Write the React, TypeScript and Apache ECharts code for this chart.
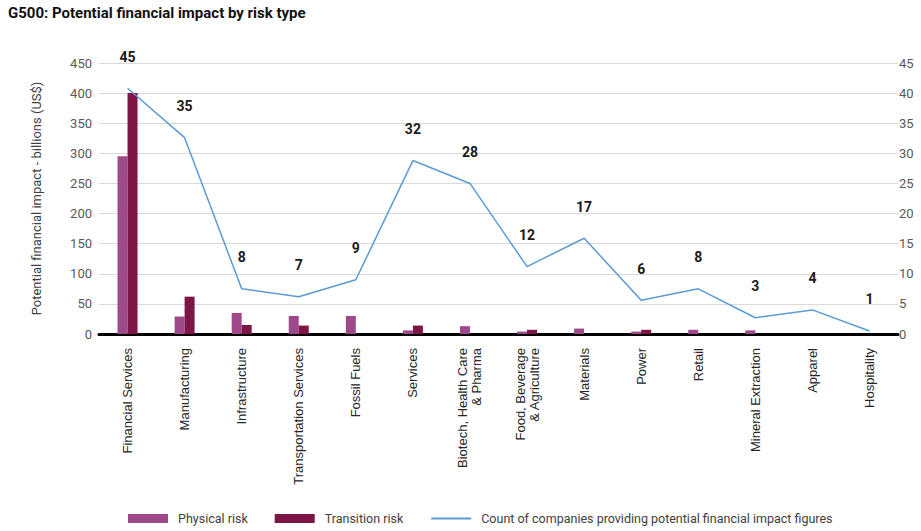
import React, { useEffect, useRef } from "react";
import * as echarts from "echarts";

const categories = [
  "Financial Services",
  "Manufacturing",
  "Infrastructure",
  "Transportation Services",
  "Fossil Fuels",
  "Services",
  "Biotech, Health Care\n& Pharma",
  "Food, Beverage\n& Agriculture",
  "Materials",
  "Power",
  "Retail",
  "Mineral Extraction",
  "Apparel",
  "Hospitality",
];

const physicalRisk = [295, 29, 35, 30, 30, 6, 13, 4, 9, 4, 7, 6, 0, 0];
const transitionRisk = [400, 62, 15, 14, 0, 14, 0, 7, 0, 7, 0, 0, 0, 0];
// line positions as drawn on the right-hand axis
const countLine = [40.8, 32.6, 7.5, 6.2, 9.0, 28.8, 25.0, 11.2, 15.9, 5.6, 7.5, 2.7, 4.0, 0.5];
// printed count labels
const countLabels = [45, 35, 8, 7, 9, 32, 28, 12, 17, 6, 8, 3, 4, 1];

const FONT = "Roboto, 'Noto Sans', sans-serif";
const LINE_NAME = "Count of companies providing potential financial impact figures";

export default function App() {
  const ref = useRef<HTMLDivElement>(null);
  useEffect(() => {
    document.body.style.margin = "0";
    const chart = echarts.init(ref.current!, null, { renderer: "svg" });
    chart.setOption({
      animation: false,
      backgroundColor: "#ffffff",
      title: {
        text: "G500: Potential financial impact by risk type",
        left: 8,
        top: 5,
        padding: 0,
        textStyle: { fontFamily: FONT, fontSize: 15, fontWeight: "bold", color: "#111111" },
      },
      legend: {
        left: 128,
        top: 512,
        padding: 0,
        itemWidth: 40,
        itemHeight: 9,
        itemGap: 27,
        textStyle: { fontFamily: FONT, fontSize: 12.5, color: "#404040", padding: [0, 0, 0, 5] },
        data: [
          { name: "Physical risk", icon: "rect" },
          { name: "Transition risk", icon: "rect" },
          { name: LINE_NAME, itemStyle: { opacity: 0 } },
        ],
      },
      grid: { left: 99, right: 23, top: 63, bottom: 197, containLabel: false },
      xAxis: {
        type: "category",
        data: categories,
        axisLine: { show: true, lineStyle: { color: "#000000", width: 3 } },
        axisTick: { show: false },
        axisLabel: {
          interval: 0,
          rotate: 90,
          margin: 14,
          fontFamily: "'Liberation Sans', Arial, sans-serif",
          fontSize: 13,
          color: "#262626",
          align: "right",
          lineHeight: 14,
        },
      },
      yAxis: [
        {
          type: "value",
          min: 0,
          max: 450,
          interval: 50,
          name: "Potential financial impact - billions (US$)",
          nameLocation: "middle",
          nameGap: 56,
          nameTextStyle: { fontFamily: FONT, fontSize: 13, color: "#404040" },
          axisLine: { show: false },
          axisTick: { show: false },
          axisLabel: { fontFamily: FONT, fontSize: 13, color: "#595959", margin: 7 },
          splitLine: { lineStyle: { color: "#d9d9d9", width: 1 } },
        },
        {
          type: "value",
          min: 0,
          max: 45,
          interval: 5,
          position: "right",
          axisLine: { show: false },
          axisTick: { show: false },
          axisLabel: { fontFamily: FONT, fontSize: 13, color: "#595959", margin: 1 },
          splitLine: { show: false },
        },
      ],
      series: [
        {
          name: "Physical risk",
          type: "bar",
          data: physicalRisk,
          barWidth: 10,
          barGap: "0%",
          itemStyle: { color: "#9e4a8a" },
        },
        {
          name: "Transition risk",
          type: "bar",
          data: transitionRisk,
          barWidth: 10,
          barGap: "0%",
          itemStyle: { color: "#7d1646" },
        },
        {
          name: LINE_NAME,
          type: "line",
          yAxisIndex: 1,
          data: countLine,
          symbol: "circle",
          symbolSize: 1,
          showSymbol: true,
          showAllSymbol: true,
          lineStyle: { color: "#5b9bd5", width: 1.5 },
          itemStyle: { color: "rgba(91,155,213,0)", borderWidth: 0 },
          label: {
            show: true,
            position: "top",
            distance: 24,
            fontFamily: FONT,
            fontSize: 14,
            fontWeight: "bold",
            color: "#1a1a1a",
            formatter: (p: any) => String(countLabels[p.dataIndex]),
          },
          z: 5,
        },
      ],
    });
    return () => chart.dispose();
  }, []);
  return (
    <div
      ref={ref}
      style={{ position: "absolute", left: 0, top: 0, width: 921, height: 531 }}
    />
  );
}
